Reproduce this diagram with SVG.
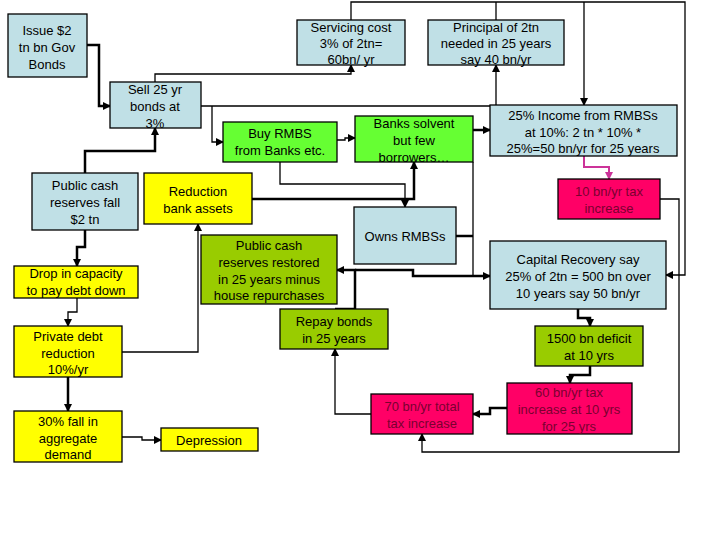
<svg xmlns="http://www.w3.org/2000/svg" width="720" height="540" viewBox="0 0 720 540">
<defs>
<marker id="a" markerWidth="8" markerHeight="8" refX="7" refY="4" orient="auto" markerUnits="userSpaceOnUse"><path d="M0,0 L8,4 L0,8 z" fill="#000"/></marker>
<marker id="m" markerWidth="8" markerHeight="8" refX="7" refY="4" orient="auto" markerUnits="userSpaceOnUse"><path d="M0,0 L8,4 L0,8 z" fill="#CC3399"/></marker>
<style>
rect{stroke:#000;stroke-width:1.3}
.b{fill:#C0E0E6}.g{fill:#66FF33}.y{fill:#FFFF00}.o{fill:#99CC00}.p{fill:#FF0066}
text{font-family:"Liberation Sans",Arial,sans-serif;font-size:13px;text-anchor:middle;fill:#000}
.pt{fill:#7A0030}
.c path{fill:none;stroke:#000;stroke-width:1.3}
.c path.t{stroke-width:2.5}
.c path.k{stroke:#CC3399;stroke-width:2}
</style>
</defs>
<rect width="720" height="540" fill="#fff" style="stroke:none"/>
<g class="c">
<path class="t" d="M87,45 H99 V106 H110" marker-end="url(#a)"/>
<path d="M155,82 V74 H351 V65" marker-end="url(#a)"/>
<path d="M351,20 V2 H685 V275 H666" marker-end="url(#a)"/>
<path d="M496,2 V20"/>
<path d="M584,2 V105" marker-end="url(#a)"/>
<path d="M201,106 H496 V65" marker-end="url(#a)"/>
<path d="M212,106 V142 H223" marker-end="url(#a)"/>
<path d="M337,140 H345 V138 H355" marker-end="url(#a)"/>
<path class="t" d="M473,130 H490" marker-end="url(#a)"/>
<path class="t" d="M85,173 V151 H155 V128" marker-end="url(#a)"/>
<path class="t" d="M85,230 V247 H77 V266" marker-end="url(#a)"/>
<path d="M280,162 V184 H405 V207" marker-end="url(#a)"/>
<path class="t" d="M252,199 H414 V162" marker-end="url(#a)"/>
<path d="M473,162 V276"/>
<path class="t" d="M456,236 H473"/>
<path class="t" d="M335,309 H355 V270 H337" marker-end="url(#a)"/>
<path class="t" d="M355,270 H413 V276 H490" marker-end="url(#a)"/>
<path d="M122,352 H198 V224" marker-end="url(#a)"/>
<path d="M77,298 V312 H68 V326" marker-end="url(#a)"/>
<path class="t" d="M68,377 V411" marker-end="url(#a)"/>
<path d="M122,437 H142 V440 H161" marker-end="url(#a)"/>
<path d="M371,414 H335 V349" marker-end="url(#a)"/>
<path class="t" d="M507,408 H490 V414 H473" marker-end="url(#a)"/>
<path class="t" d="M590,366 V375 H570 V383" marker-end="url(#a)"/>
<path class="t" d="M578,309 V318 H590 V326" marker-end="url(#a)"/>
<path class="k" d="M584,156 V167 H609 V179" marker-end="url(#m)"/>
<path d="M660,199 H679 V452 H422 V434" marker-end="url(#a)"/>
</g>
<g id="issue"><rect class="b" x="8" y="14" width="79" height="63"/><text x="47" y="35">Issue $2</text><text x="47" y="52">tn bn Gov</text><text x="47" y="69">Bonds</text></g>
<g id="servicing"><rect class="b" x="297" y="20" width="108" height="45"/><text x="351" y="32">Servicing cost</text><text x="351" y="48">3% of 2tn=</text><text x="351" y="64">60bn/ yr</text></g>
<g id="principal"><rect class="b" x="428" y="20" width="136" height="45"/><text x="496" y="32">Principal of 2tn</text><text x="496" y="48">needed in 25 years</text><text x="496" y="64">say 40 bn/yr</text></g>
<g id="sell"><rect class="b" x="110" y="82" width="91" height="46"/><text x="155" y="94">Sell 25 yr</text><text x="155" y="111">bonds at</text><text x="155" y="128">3%</text></g>
<g id="buy"><rect class="g" x="223" y="122" width="114" height="40"/><text x="280" y="138">Buy RMBS</text><text x="280" y="155">from Banks etc.</text></g>
<g id="solvent"><rect class="g" x="355" y="116" width="118" height="46"/><text x="414" y="128">Banks solvent</text><text x="414" y="145">but few</text><text x="414" y="162">borrowers…</text></g>
<g id="income"><rect class="b" x="490" y="105" width="187" height="51"/><text x="583" y="120">25% Income from RMBSs</text><text x="583" y="137">at 10%: 2 tn * 10% *</text><text x="583" y="153">25%=50 bn/yr for 25 years</text></g>
<g id="fall"><rect class="b" x="32" y="173" width="106" height="57"/><text x="85" y="190">Public cash</text><text x="85" y="207">reserves fall</text><text x="85" y="224">$2 tn</text></g>
<g id="reduction"><rect class="y" x="144" y="173" width="108" height="51"/><text x="198" y="196">Reduction</text><text x="198" y="213">bank assets</text></g>
<g id="tax10"><rect class="p" x="558" y="179" width="102" height="40"/><text class="pt" x="609" y="196">10 bn/yr tax</text><text class="pt" x="609" y="213">increase</text></g>
<g id="owns"><rect class="b" x="354" y="207" width="102" height="57"/><text x="405" y="241">Owns RMBSs</text></g>
<g id="restored"><rect class="o" x="201" y="235" width="136" height="69"/><text x="269" y="250">Public cash</text><text x="269" y="267">reserves restored</text><text x="269" y="284">in 25 years minus</text><text x="269" y="300">house repurchases</text></g>
<g id="drop"><rect class="y" x="14" y="266" width="124" height="32"/><text x="76" y="278">Drop in capacity</text><text x="76" y="295">to pay debt down</text></g>
<g id="capital"><rect class="b" x="490" y="241" width="176" height="68"/><text x="578" y="264">Capital Recovery say</text><text x="578" y="281">25% of 2tn = 500 bn over</text><text x="578" y="298">10 years say 50 bn/yr</text></g>
<g id="repay"><rect class="o" x="280" y="309" width="108" height="40"/><text x="334" y="326">Repay bonds</text><text x="334" y="343">in 25 years</text></g>
<g id="private"><rect class="y" x="14" y="326" width="108" height="51"/><text x="68" y="341">Private debt</text><text x="68" y="358">reduction</text><text x="68" y="374">10%/yr</text></g>
<g id="deficit"><rect class="o" x="535" y="326" width="108" height="40"/><text x="589" y="343">1500 bn deficit</text><text x="589" y="360">at 10 yrs</text></g>
<g id="tax70"><rect class="p" x="371" y="394" width="102" height="40"/><text class="pt" x="422" y="411">70 bn/yr total</text><text class="pt" x="422" y="428">tax increase</text></g>
<g id="tax60"><rect class="p" x="507" y="383" width="125" height="51"/><text class="pt" x="569" y="397">60 bn/yr tax</text><text class="pt" x="569" y="414">increase at 10 yrs</text><text class="pt" x="569" y="431">for 25 yrs</text></g>
<g id="aggregate"><rect class="y" x="14" y="411" width="108" height="51"/><text x="68" y="426">30% fall in</text><text x="68" y="443">aggregate</text><text x="68" y="459">demand</text></g>
<g id="depression"><rect class="y" x="161" y="428" width="97" height="23"/><text x="209" y="445">Depression</text></g>
</svg>
